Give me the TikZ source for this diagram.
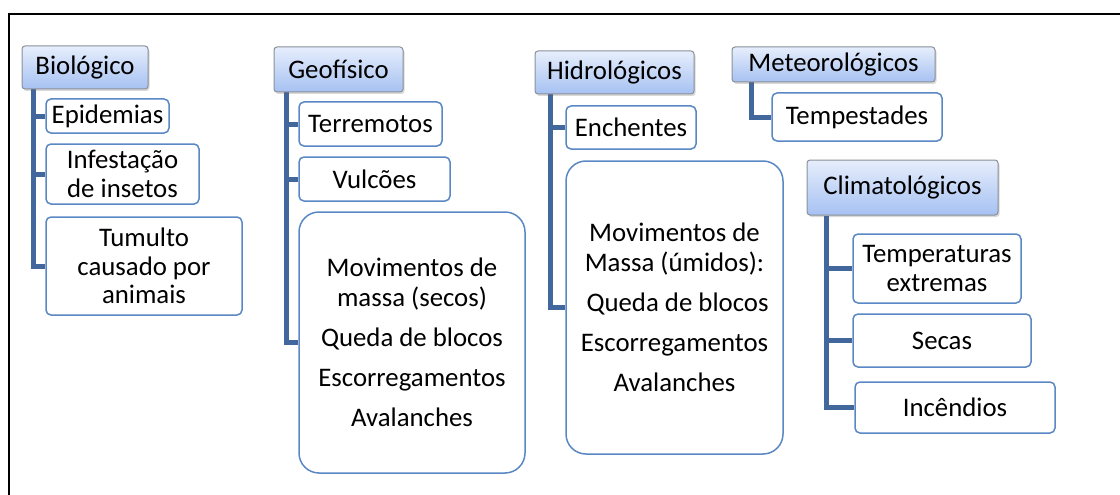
\documentclass[tikz,border=0pt]{standalone}
\usepackage{fontspec}
\setmainfont{Carlito}
\usetikzlibrary{shadows,backgrounds}
\definecolor{hdrtop}{HTML}{E6EEFC}
\definecolor{hdrbot}{HTML}{A6C1F2}
\definecolor{hdrline}{HTML}{8A9099}
\definecolor{leafline}{HTML}{5A88C4}
\definecolor{connc}{HTML}{41679C}
\begin{document}
\begin{tikzpicture}[x=1pt,y=-1pt,
  every node/.style={font=\fontsize{26.8}{28.5}\selectfont, align=center, inner sep=1pt, text=black},
  hdr/.style={draw=hdrline, line width=1pt, rounded corners=3pt, top color=hdrtop, bottom color=hdrbot,
    drop shadow={shadow xshift=1.5pt, shadow yshift=-2pt, opacity=0.25, fill=black!60}},
  leaf/.style={draw=leafline, line width=1.5pt, rounded corners=5pt, fill=white},
  bigleaf/.style={leaf, rounded corners=20pt, font=\fontsize{26.8}{29.5}\selectfont},
  conn/.style={draw=connc, line width=5pt}]
\useasboundingbox (0,0) rectangle (1120,495);
\draw[line width=2.7pt] (9,520) -- (9,14) -- (1140,14);

% Biologico
\node[hdr, minimum width=126, minimum height=43] (bio) at (85,67.5) {Biológico};
\node[leaf, minimum width=123, minimum height=34] (epi) at (107.5,116) {Epidemias};
\node[leaf, minimum width=153, minimum height=60] (inf) at (122.5,174) {Infestação\\de insetos};
\node[leaf, minimum width=196, minimum height=98] (tum) at (144,266) {Tumulto\\causado por\\animais};

% Geofisico
\node[hdr, minimum width=129, minimum height=45] (geo) at (338.5,69.5) {Geofísico};
\node[leaf, minimum width=143, minimum height=44] (ter) at (370.5,124) {Terremotos};
\node[leaf, minimum width=151, minimum height=44] (vul) at (374.5,179) {Vulcões};
\node[bigleaf, minimum width=226, minimum height=261] (mms) at (412,342.5)
  {Movimentos de\\massa (secos)\\[10.5pt]Queda de blocos\\[10.5pt]Escorregamentos\\[10.5pt]Avalanches};

% Hidrologicos
\node[hdr, minimum width=159, minimum height=43] (hid) at (614.5,72.5) {Hidrológicos};
\node[leaf, minimum width=130, minimum height=43] (enc) at (631,127.5) {Enchentes};
\node[bigleaf, minimum width=217, minimum height=293] (mmu) at (674.5,307.5)
  {Movimentos de\\Massa (úmidos):\\[10.5pt]\ Queda de blocos\\[10.5pt]Escorregamentos\\[10.5pt]Avalanches};

% Meteorologicos
\node[hdr, minimum width=203, minimum height=35] (met) at (833.5,64.5) {Meteorológicos};
\node[leaf, minimum width=170, minimum height=48] (tem) at (857,117) {Tempestades};

% Climatologicos
\node[hdr, minimum width=191, minimum height=55] (cli) at (902.5,187.5) {Climatológicos};
\node[leaf, minimum width=168, minimum height=69] (tex) at (937,268.5) {Temperaturas\\extremas};
\node[leaf, minimum width=178, minimum height=53] (sec) at (942,340.5) {Secas};
\node[leaf, minimum width=200, minimum height=51] (inc) at (955,407.5) {Incêndios};

\begin{scope}[on background layer]
  \draw[conn] ([xshift=12pt]bio.south west) |- (epi.west);
  \draw[conn] ([xshift=12pt]bio.south west) |- (inf.west);
  \draw[conn] ([xshift=12pt]bio.south west) |- (tum.west);
  \draw[conn] ([xshift=13pt]geo.south west) |- (ter.west);
  \draw[conn] ([xshift=13pt]geo.south west) |- (vul.west);
  \draw[conn] ([xshift=13pt]geo.south west) |- (mms.west);
  \draw[conn] ([xshift=16pt]hid.south west) |- (enc.west);
  \draw[conn] ([xshift=16pt]hid.south west) |- (mmu.west);
  \draw[conn] ([xshift=20pt]met.south west) |- (tem.west);
  \draw[conn] ([xshift=20pt]cli.south west) |- (tex.west);
  \draw[conn] ([xshift=20pt]cli.south west) |- (sec.west);
  \draw[conn] ([xshift=20pt]cli.south west) |- (inc.west);
\end{scope}
\end{tikzpicture}
\end{document}
